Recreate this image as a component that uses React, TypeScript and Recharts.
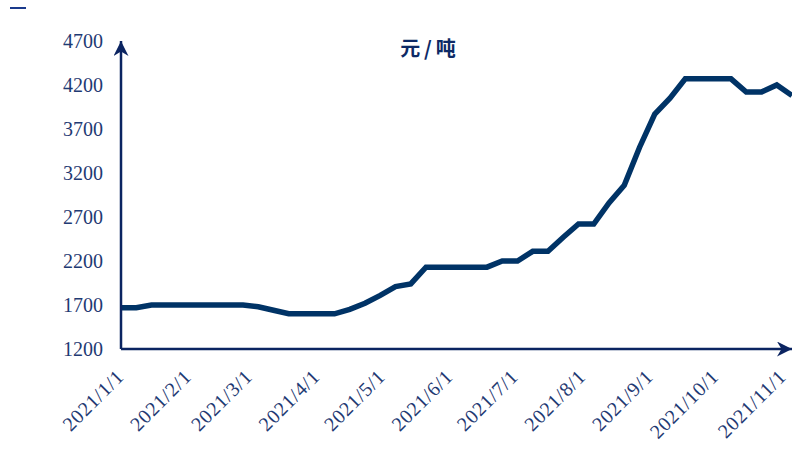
import { LineChart, Line, XAxis, YAxis } from "recharts";

const dates = [
  "2021-01-01", "2021-01-08", "2021-01-15", "2021-01-22", "2021-01-29",
  "2021-02-05", "2021-02-12", "2021-02-19", "2021-02-26",
  "2021-03-05", "2021-03-12", "2021-03-19", "2021-03-26",
  "2021-04-02", "2021-04-09", "2021-04-16", "2021-04-23", "2021-04-30",
  "2021-05-07", "2021-05-14", "2021-05-21", "2021-05-28",
  "2021-06-04", "2021-06-11", "2021-06-18", "2021-06-25",
  "2021-07-02", "2021-07-09", "2021-07-16", "2021-07-23", "2021-07-30",
  "2021-08-06", "2021-08-13", "2021-08-20", "2021-08-27",
  "2021-09-03", "2021-09-10", "2021-09-17", "2021-09-24",
  "2021-10-01", "2021-10-08", "2021-10-15", "2021-10-22", "2021-10-29",
  "2021-11-05",
];

const prices = [
  1670, 1670, 1700, 1700, 1700,
  1700, 1700, 1700, 1700,
  1680, 1640, 1600, 1600,
  1600, 1600, 1650, 1720, 1810,
  1910, 1940, 2130, 2130,
  2130, 2130, 2130, 2200,
  2200, 2310, 2310, 2470, 2620,
  2620, 2860, 3060, 3490,
  3870, 4050, 4270, 4270,
  4270, 4270, 4120, 4120, 4200,
  4080,
];

const monthLabels = [
  "2021/1/1", "2021/2/1", "2021/3/1", "2021/4/1", "2021/5/1", "2021/6/1",
  "2021/7/1", "2021/8/1", "2021/9/1", "2021/10/1", "2021/11/1",
];

const yTicks = [1200, 1700, 2200, 2700, 3200, 3700, 4200, 4700];

const unit = "元/吨";

const NAVY = "#003366";
const AXIS = "#0b2461";
const TEXT = "#1f3a73";
const FONT = '"Liberation Serif", "Times New Roman", serif';

const START = Date.UTC(2021, 0, 1);
const dayOf = (s: string) => {
  const [y, m, d] = s.split(/[-/]/).map(Number);
  return Math.round((Date.UTC(y, m - 1, d) - START) / 86400000);
};

const data = dates.map((d, i) => ({ day: dayOf(d), price: prices[i] }));
const xTicks = monthLabels.map(dayOf);
const labelOf: Record<number, string> = {};
monthLabels.forEach((l) => (labelOf[dayOf(l)] = l));

function DateTick(props: any) {
  const { x, y, payload } = props;
  const tx = x + 4;
  const ty = y + 29;
  return (
    <text
      x={tx}
      y={ty}
      textAnchor="end"
      transform={`rotate(-45, ${tx}, ${ty})`}
      fill={TEXT}
      style={{ fontFamily: FONT, fontSize: 20, letterSpacing: 0.7 }}
    >
      {labelOf[payload.value]}
    </text>
  );
}

function ValueTick(props: any) {
  const { x, y, payload } = props;
  return (
    <text
      x={x}
      y={y}
      dy="0.35em"
      textAnchor="end"
      fill={TEXT}
      style={{ fontFamily: FONT, fontSize: 20 }}
    >
      {payload.value}
    </text>
  );
}

export default function App() {
  return (
    <div style={{ position: "absolute", left: 0, top: 0, width: 792, height: 470, background: "#fff" }}>
      <div style={{ position: "absolute", left: 10, top: 7, width: 16, height: 2, background: "#1a3a8c" }} />
      <div
        style={{
          position: "absolute",
          left: 0,
          width: 860,
          top: 35,
          textAlign: "center",
          fontFamily: '"Noto Sans CJK SC", sans-serif',
          fontWeight: 700,
          fontSize: 20,
          letterSpacing: 4,
          color: "#0d2a66",
          lineHeight: "26px",
        }}
      >
        {unit}
      </div>
      <LineChart width={792} height={470} data={data} margin={{ top: 41, right: 0, left: 0, bottom: 0 }}>
        <defs>
          <marker
            id="arrow"
            viewBox="0 0 10 10"
            refX={10}
            refY={5}
            markerWidth={15}
            markerHeight={15}
            markerUnits="userSpaceOnUse"
            orient="auto-start-reverse"
          >
            <path d="M0,0 L10,5 L0,10 L3,5 z" fill={AXIS} />
          </marker>
        </defs>
        <XAxis
          dataKey="day"
          type="number"
          domain={[0, 308]}
          ticks={xTicks}
          interval={0}
          height={121}
          tickLine={false}
          tickSize={0}
          tickMargin={0}
          axisLine={{ stroke: AXIS, strokeWidth: 2.5, markerEnd: "url(#arrow)" }}
          tick={<DateTick />}
        />
        <YAxis
          type="number"
          domain={[1200, 4700]}
          ticks={yTicks}
          interval={0}
          width={121}
          tickLine={false}
          tickSize={0}
          tickMargin={18}
          axisLine={{ stroke: AXIS, strokeWidth: 2.5, markerStart: "url(#arrow)" }}
          tick={<ValueTick />}
        />
        <Line
          type="linear"
          dataKey="price"
          stroke={NAVY}
          strokeWidth={5.5}
          dot={false}
          isAnimationActive={false}
        />
      </LineChart>
    </div>
  );
}
